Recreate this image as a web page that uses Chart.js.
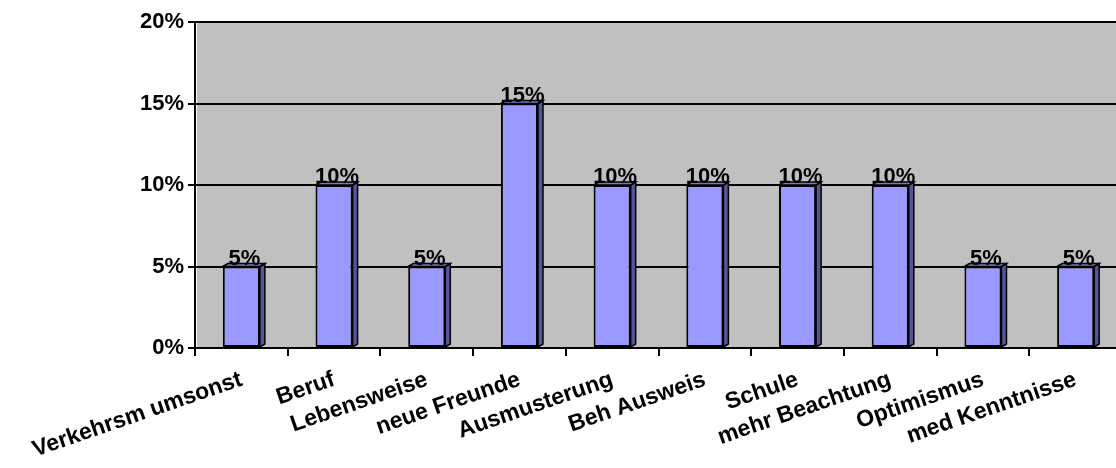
<!DOCTYPE html>
<html>
<head>
<meta charset="utf-8">
<script src="https://cdn.jsdelivr.net/npm/chart.js@4/dist/chart.umd.min.js"></script>
<style>
  html, body { margin: 0; padding: 0; background: #fff; overflow: hidden; }
  #wrap { width: 1116px; height: 468px; overflow: hidden; }
</style>
</head>
<body>
<div id="wrap"><canvas id="c" width="1124" height="468"></canvas></div>
<script>
// data
const categories = ['Verkehrsm umsonst', 'Beruf', 'Lebensweise', 'neue Freunde', 'Ausmusterung',
  'Beh Ausweis', 'Schule', 'mehr Beachtung', 'Optimismus', 'med Kenntnisse'];
const shares = [5, 10, 5, 15, 10, 10, 10, 10, 5, 5];
const yTicks = [0, 5, 10, 15, 20];

const FONT = '"Liberation Sans", Arial, sans-serif';

// gray plot background
const plotBg = {
  id: 'plotBg',
  beforeDraw(chart) {
    const { ctx, chartArea: a } = chart;
    ctx.save();
    ctx.fillStyle = '#C0C0C0';
    ctx.fillRect(a.left + 2, a.top, a.right - a.left - 2, a.bottom - a.top);
    ctx.strokeStyle = '#A0A0A0';
    ctx.lineWidth = 1;
    ctx.beginPath();
    ctx.moveTo(a.left + 2, a.top + 0.5);
    ctx.lineTo(a.right, a.top + 0.5);
    ctx.stroke();
    ctx.restore();
  }
};

// fake 3d side + value labels
const bar3d = {
  id: 'bar3d',
  afterDatasetsDraw(chart) {
    const ctx = chart.ctx;
    const meta = chart.getDatasetMeta(0);
    const dx = 5, dy = 3;
    ctx.save();
    meta.data.forEach((bar, i) => {
      const p = bar.getProps(['x', 'y', 'base', 'width'], true);
      const l = p.x - p.width / 2, r = p.x + p.width / 2;
      ctx.fillStyle = '#55559A';
      ctx.strokeStyle = '#000';
      ctx.lineWidth = 1.5;
      ctx.beginPath();
      ctx.moveTo(r, p.y);
      ctx.lineTo(r + dx, p.y - dy);
      ctx.lineTo(r + dx, p.base - dy);
      ctx.lineTo(r, p.base);
      ctx.closePath();
      ctx.fill();
      ctx.stroke();
      ctx.fillStyle = '#7777CC';
      ctx.beginPath();
      ctx.moveTo(l, p.y);
      ctx.lineTo(l + dx, p.y - dy);
      ctx.lineTo(r + dx, p.y - dy);
      ctx.lineTo(r, p.y);
      ctx.closePath();
      ctx.fill();
      ctx.stroke();

      ctx.fillStyle = '#000';
      ctx.font = 'bold 22px ' + FONT;
      ctx.textAlign = 'center';
      ctx.textBaseline = 'alphabetic';
      ctx.fillText(shares[i] + '%', p.x + 3, p.y - 2);
    });
    ctx.restore();
  }
};

new Chart(document.getElementById('c'), {
  type: 'bar',
  data: {
    labels: categories,
    datasets: [{
      data: shares,
      backgroundColor: '#9999FF',
      borderColor: '#000',
      borderWidth: 2,
      borderSkipped: false,
      barPercentage: 0.4,
      categoryPercentage: 1
    }]
  },
  options: {
    responsive: false,
    animation: false,
    layout: { padding: { top: 22, right: 2, left: 0, bottom: 0 } },
    plugins: { legend: { display: false }, tooltip: { enabled: false } },
    scales: {
      x: {
        grid: { drawOnChartArea: false, color: '#000', lineWidth: 2, tickLength: 8, offset: true },
        border: { color: '#000', width: 2 },
        ticks: {
          color: '#000',
          font: { family: FONT, size: 23, weight: 'bold' },
          minRotation: 19, maxRotation: 19, autoSkip: false, padding: 10
        },
        afterFit(s) { s.height = 120; }
      },
      y: {
        min: 0, max: 20,
        afterBuildTicks(s) { s.ticks = yTicks.map(v => ({ value: v })); },
        grid: { color: '#000', lineWidth: 2, tickLength: 7 },
        border: { color: '#000', width: 2 },
        ticks: {
          color: '#000',
          padding: 4,
          font: { family: FONT, size: 22, weight: 'bold' },
          callback: v => v + '%'
        },
        afterFit(s) { s.width = 195; }
      }
    }
  },
  plugins: [plotBg, bar3d]
});
</script>
</body>
</html>
